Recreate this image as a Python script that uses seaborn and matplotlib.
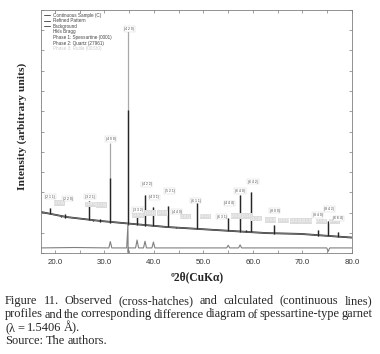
import matplotlib
matplotlib.use("Agg")
import matplotlib.pyplot as plt
from matplotlib.lines import Line2D
import seaborn as sns

bg_x = [17.2, 22.4, 29.1, 35.8, 42.6, 49.3, 56.0, 62.8, 69.6, 78.2, 80.0]
bg_y = [204, 179, 160, 145, 130, 120, 110, 100, 96, 81, 78]

# Pics : position, sommet observé, sommet calculé, base
peak_pos = [19.1, 21.3, 22.0, 26.9, 27.7, 29.1, 31.2, 34.8, 36.6, 38.2, 39.9,
            42.9, 44.4, 48.6, 55.0, 57.4, 58.6, 59.7, 64.3, 73.1, 75.2, 77.2]
peak_obs = [222, 186, 194, 258, 165, 170, 372, 707, 204, 288, 227,
            234, 132, 247, 173, 288, 115, 303, 140, 115, 160, 107]
peak_calc = [222, 186, 194, 258, 165, 170, 544, 1121, 204, 288, 227,
             234, 132, 247, 173, 288, 115, 303, 140, 115, 160, 107]
peak_base = [194, 179, 175, 165, 160, 155, 150, 142, 140, 135, 133,
             128, 125, 118, 110, 106, 106, 103, 98, 88, 86, 83]

# Courbe différence
diff_x = [17.2, 24.0, 30.9, 31.2, 31.5, 34.5, 34.75, 34.8, 34.85, 36.3, 36.6,
          36.9, 37.9, 38.2, 38.5, 39.6, 39.9, 40.2, 54.7, 55.0, 55.3, 57.1,
          57.4, 57.7, 74.9, 75.2, 75.5, 80.0]
diff_y = [27, 29, 27, 58, 27, 27, 142, 4, 27, 27, 66,
          27, 27, 60, 27, 27, 56, 27, 27, 40, 27, 27,
          42, 27, 27, 10, 27, 27]

# Indexation des pics (phase 1, foncé)
hkl_text = ["(2 1 1)", "(2 2 0)", "(3 2 1)", "(4 0 0)", "(4 2 0)", "(3 3 2)",
            "(4 2 2)", "(4 3 1)", "(5 2 1)", "(4 4 0)", "(6 1 1)", "(6 3 1)",
            "(4 4 4)", "(6 4 0)", "(6 4 2)", "(8 0 0)", "(8 4 0)", "(8 4 2)",
            "(6 6 4)"]
hkl_x = [19.1, 22.6, 27.1, 31.3, 35.0, 36.8, 38.5, 40.1, 43.2, 44.6, 48.4,
         53.7, 55.2, 57.4, 60.0, 64.4, 73.1, 75.4, 77.2]
hkl_y = [280, 270, 280, 564, 1105, 214, 341, 276, 308, 206, 260,
         181, 247, 308, 353, 211, 189, 219, 173]

# Indexation des autres phases (clair)
hkl2_text = ["(1 0 0)", "(1 0 1)", "(1 1 0)", "(1 0 2)", "(1 1 1)", "(2 0 0)",
             "(2 0 1)", "(1 1 2)", "(2 0 3)", "(2 1 1)", "(3 1 0)", "(1 0 4)",
             "(3 0 1)", "(2 2 2)", "(3 1 2)", "(2 1 4)", "(2 2 3)"]
hkl2_x = [20.9, 27.2, 29.4, 36.8, 39.2, 41.8, 46.3, 50.4, 56.6, 58.8, 60.6,
          63.6, 66.2, 68.6, 70.8, 73.8, 76.4]
hkl2_y = [248, 242, 239, 189, 199, 199, 181, 183, 184, 184, 171,
          165, 163, 160, 160, 158, 158]

legend_labels = ["Continuous Sample (C)", "Refined Pattern", "Background",
                 "Hkls Bragg", "Phase 1: Spessartine (0001)",
                 "Phase 2: Quartz (27961)", "Phase 3: Rutile (00330)"]

xtick_vals = [20, 25, 30, 35, 40, 45, 50, 55, 60, 65, 70, 75, 80]
xtick_labels = ["20.0", "", "30.0", "", "40.0", "", "50.0", "", "60.0", "",
                "70.0", "", "80.0"]
ytick_vals = [0, 100, 200, 300, 400, 500, 600, 700, 800, 900, 1000, 1100, 1200]

caption = [
    "Figure 11. Observed (cross-hatches) and calculated (continuous lines)",
    "profiles and the corresponding difference diagram of spessartine-type garnet",
    "(λ = 1.5406 Å).",
    "Source: The authors.",
]

sns.set_style("ticks")
plt.rcParams["font.family"] = ["Liberation Sans", "DejaVu Sans"]

W, H = 380, 354
fig = plt.figure(figsize=(W / 100, H / 100), dpi=100)
ax = fig.add_axes([41 / W, 1 - 253.4 / H, 311 / W, 243.6 / H])

# Fond observé + calculé
sns.lineplot(x=bg_x, y=bg_y, ax=ax, color="#2a2a2a", lw=1.3,
             estimator=None, sort=False)
sns.lineplot(x=bg_x, y=bg_y, ax=ax, color="#8c8c8c", lw=0.5,
             estimator=None, sort=False)
# Pics
ax.vlines(peak_pos, peak_base, peak_calc, colors="#a8a8a8", lw=0.9)
ax.vlines(peak_pos, peak_base, peak_obs, colors="#262626", lw=1.0)
# Différence
sns.lineplot(x=diff_x, y=diff_y, ax=ax, color="#808080", lw=0.8,
             estimator=None, sort=False)

for s, x, y in zip(hkl2_text, hkl2_x, hkl2_y):
    ax.text(x, y, s, fontsize=2.4, ha="center", va="center", color="white",
            bbox=dict(boxstyle="square,pad=0.2", fc="#dcdcdc", ec="none"))
for s, x, y in zip(hkl_text, hkl_x, hkl_y):
    ax.text(x, y, s, fontsize=2.4, ha="center", va="center", color="#444444",
            bbox=dict(boxstyle="square,pad=0.2", fc="white", ec="#cfcfcf",
                      lw=0.3))

handles = [Line2D([], [], color="#555555", lw=0.7)] * 3 + \
          [Line2D([], [], color="none")] * 4
leg = ax.legend(handles, legend_labels, loc="upper left", fontsize=3.3,
                frameon=False, handlelength=1.4, handletextpad=0.5,
                labelspacing=0.12, borderaxespad=0.25)
for t in leg.get_texts():
    t.set_color("#444444")
leg.get_texts()[-1].set_color("#cccccc")

ax.set_xlim(17.2, 80.0)
ax.set_ylim(0, 1200)
ax.set_xticks(xtick_vals)
ax.set_xticklabels(xtick_labels)
ax.set_yticks(ytick_vals)
ax.set_yticklabels([])
ax.tick_params(direction="in", top=True, right=True, length=2.2, width=0.5,
               color="#777777", labelsize=5.7, labelcolor="#333333", pad=4)
for sp in ax.spines.values():
    sp.set_color("#808080")
    sp.set_linewidth(0.6)
ax.set_xlabel("")
ax.set_ylabel("")

serif = ["Liberation Serif", "DejaVu Serif"]
fig.text(197 / W, 1 - 277 / H, "º2θ(CuKα)", ha="center", va="center",
         fontsize=8.3, fontweight="bold", family=serif)
fig.text(22 / W, 1 - 126 / H, "Intensity (arbitrary units)", ha="center",
         va="center", rotation=90, fontsize=8.2, fontweight="bold",
         family=serif)

# Légende justifiée
renderer = fig.canvas.get_renderer()
left, right = 5, 372
baselines = [304, 317.5, 331, 344.5]
for i, (line, yb) in enumerate(zip(caption, baselines)):
    words = line.split(" ")
    texts = [fig.text(0, 1 - yb / H, w, fontsize=8.9, family=serif,
                      va="baseline", ha="left") for w in words]
    widths = [t.get_window_extent(renderer).width for t in texts]
    if i < 2:
        gap = (right - left - sum(widths)) / (len(words) - 1)
    else:
        gap = 2.6
    x = left
    for t, w in zip(texts, widths):
        t.set_x(x / W)
        x += w + gap

fig.savefig("out.png", dpi=100)
